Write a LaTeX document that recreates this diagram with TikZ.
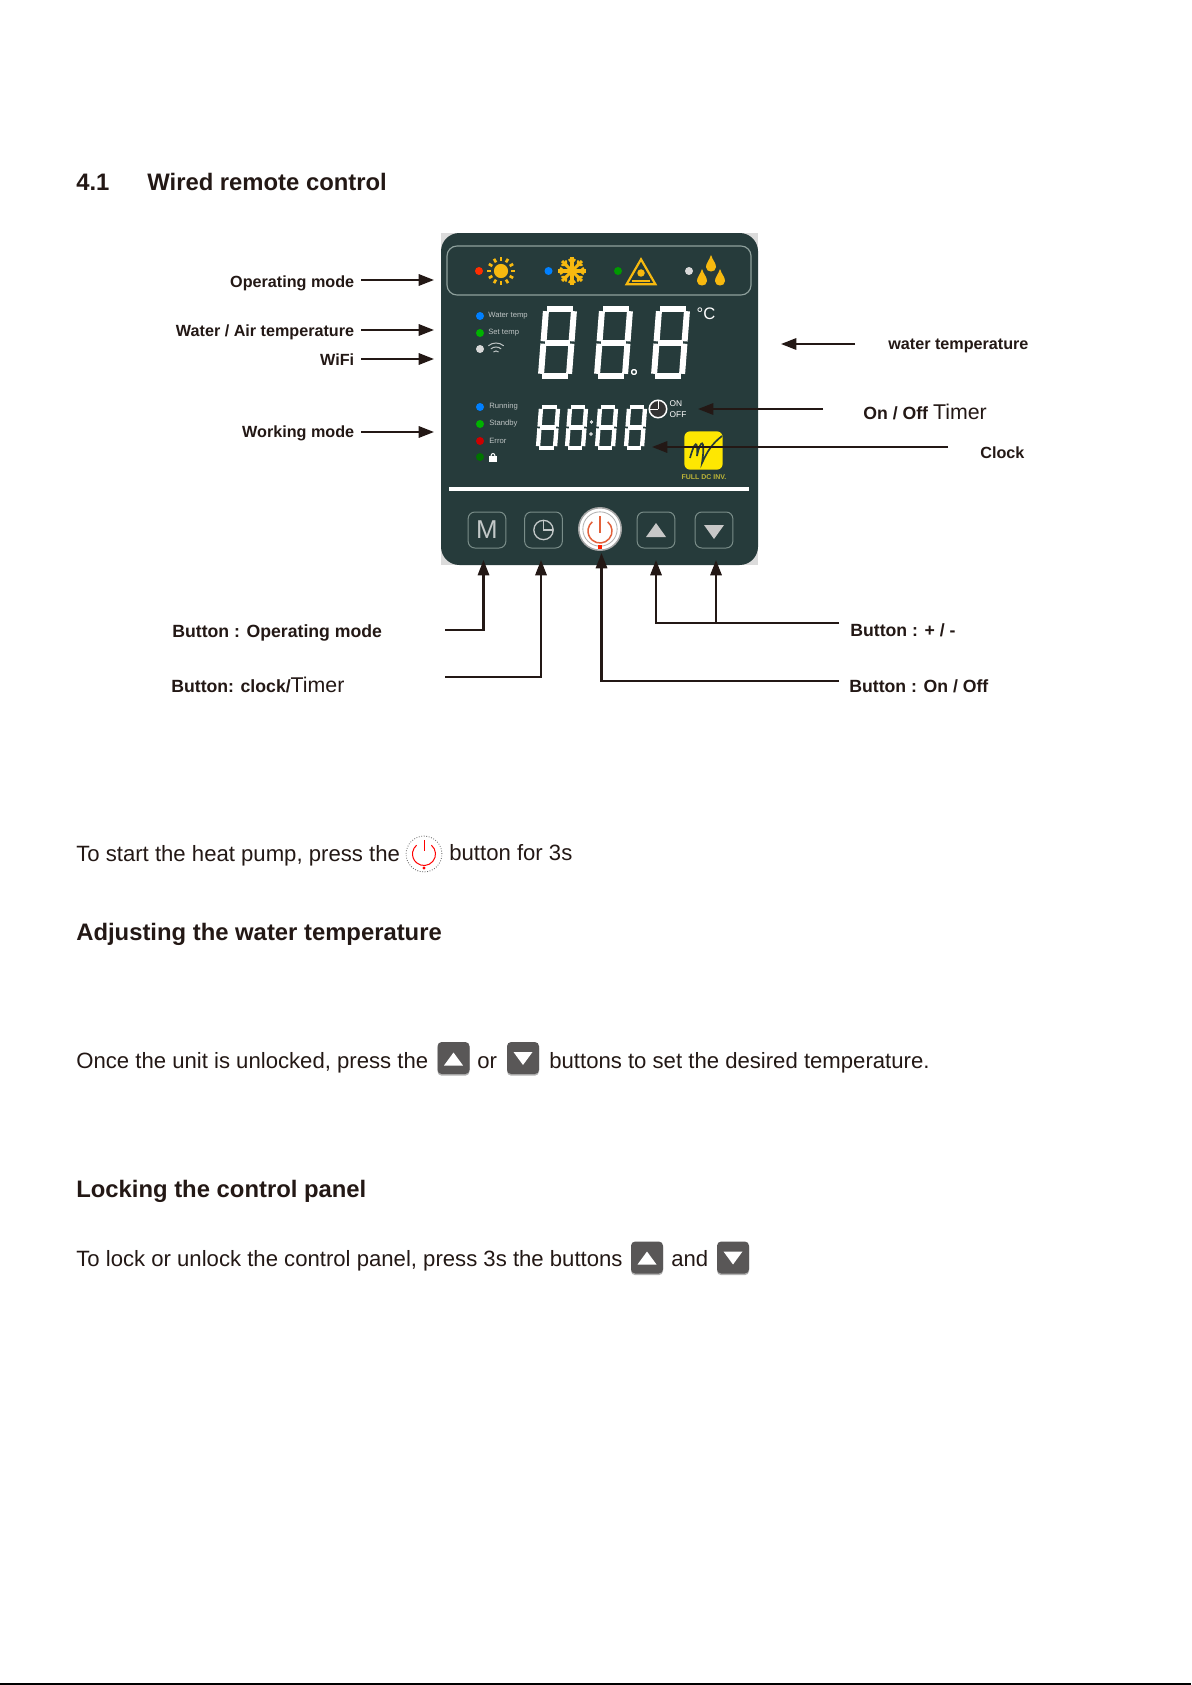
\documentclass[tikz,border=0pt]{standalone}
\usepackage{fontspec}
\setmainfont{Liberation Sans}
\usepackage{tikz}
\usetikzlibrary{arrows.meta,positioning,shapes.geometric}
\definecolor{panelgreen}{HTML}{263B3B}
\definecolor{sunyellow}{HTML}{F7B90F}
\definecolor{panelline}{HTML}{8FA19D}
\definecolor{btngrey}{HTML}{595757}
\definecolor{inkdark}{HTML}{231815}
\definecolor{powred}{HTML}{E2603A}
% seven segment digit: x, top, width, height, slant, line width
\newcommand{\sevenseg}[6]{%
  \begin{scope}[white,line width=#6pt,shorten >=#6pt*0.2,shorten <=#6pt*0.2]
  \draw (#1+#5+2,#2+2) -- (#1+#3-2,#2+2);
  \draw (#1+#5/2+2,#2+#4/2) -- (#1+#3-#5/2-2,#2+#4/2);
  \draw (#1+2,#2+#4-2) -- (#1+#3-#5-2,#2+#4-2);
  \draw (#1+#5+2,#2+3) -- (#1+#5/2+2,#2+#4/2);
  \draw (#1+#3-2,#2+3) -- (#1+#3-#5/2-2,#2+#4/2);
  \draw (#1+#5/2+2,#2+#4/2) -- (#1+2,#2+#4-3);
  \draw (#1+#3-#5/2-2,#2+#4/2) -- (#1+#3-#5-2,#2+#4-3);
  \end{scope}}
% flat triangles on the keys: x, y, half width, half height, colour
\newcommand{\triup}[5]{\fill[#5] (#1-#3,#2+#4) -- (#1+#3,#2+#4) -- (#1,#2-#4) -- cycle;}
\newcommand{\tridn}[5]{\fill[#5] (#1-#3,#2-#4) -- (#1+#3,#2-#4) -- (#1,#2+#4) -- cycle;}
\begin{document}
\begin{tikzpicture}[x=0.6pt,y=-0.6pt,
  lbl/.style={font=\bfseries\fontsize{9.7}{11}\selectfont,inner sep=0pt,text=inkdark},
  lblbig/.style={font=\bfseries\fontsize{10.6}{12}\selectfont,inner sep=0pt,text=inkdark},
  body/.style={font=\fontsize{13.28}{15}\selectfont,inner sep=0pt,anchor=base west,text=inkdark},
  head/.style={font=\bfseries\fontsize{14.3}{16}\selectfont,inner sep=0pt,anchor=base west,text=inkdark},
  arr/.style={-{Triangle[length=9.2pt,width=6.8pt]},line width=1.3pt,inkdark},
  led/.style={circle,inner sep=0pt,minimum size=4.8pt},
  tiny/.style={font=\fontsize{4.6}{5}\selectfont,inner sep=0pt,anchor=west,text=white!70!panelgreen},
  pbtn/.style={draw=panelline!80!panelgreen,line width=.6pt,rounded corners=4pt,minimum width=22.6pt,minimum height=21.6pt,inner sep=0pt},
  keybtn/.style={preaction={fill=black!30,transform canvas={yshift=-1pt}},fill=btngrey,rounded corners=2.5pt,minimum size=19.2pt,inner sep=0pt},
  sunray/.style={sunyellow,line width=1.6pt}]
\useasboundingbox (0,0) rectangle (1191,1685);
\fill[white] (0,0) rectangle (1191,1685);
\fill[black] (0,1683) rectangle (1191,1685);
% heading
\node[head] (title) at (76,191) {4.1};
\node[head] (titleb) at (147,191) {Wired remote control};
% panel
\fill[black!14] (441,233) rectangle (758,565);
\node[fill=panelgreen,rounded corners=11pt,minimum width=190.2pt,minimum height=199.2pt,inner sep=0pt] (panel) at (599.5,399) {};
\node[draw=panelline,line width=.7pt,rounded corners=6pt,minimum width=182.4pt,minimum height=29.4pt,inner sep=0pt] (modebar) at (599,270.5) {};
% mode icons
\node[led,fill=red!65!orange] (ledsun) at (479,271) {};
\node[circle,fill=sunyellow,inner sep=0pt,minimum size=8.5pt] (sun) at (501,271) {};
\foreach \a in {0,30,...,330}
  \draw[sunray] (sun.center) ++(\a:10) -- ++(\a:4);
\node[led,fill=blue!50!cyan] (ledsnow) at (548.5,271) {};
\coordinate (snow) at (572,271);
\foreach \a in {0,45,...,315} {
  \draw[sunyellow,line width=1.9pt] (snow) -- ++(\a:14);
  \draw[sunyellow,line width=1.2pt] (snow) ++(\a:8) -- ++(\a+40:5) (snow) ++(\a:8) -- ++(\a-40:5);
}
\node[led,fill=green!60!black] (ledwarn) at (618,271) {};
\node[regular polygon,regular polygon sides=3,draw=sunyellow,line width=1.3pt,inner sep=0pt,minimum size=20pt] (warn) at (641,276) {};
\node[circle,fill=sunyellow,inner sep=0pt,minimum size=4.5pt] (warnsun) at (641,273) {};
\draw[sunyellow,line width=1.3pt] (632,281) -- (650,281);
\node[led,fill=white!85!black] (leddrop) at (689,271) {};
\foreach \x/\y in {711/264,702/278,720/278}
  \fill[sunyellow] (\x,\y-9) .. controls (\x+2,\y-3) and (\x+5,\y-1) .. (\x+5,\y+3) .. controls (\x+5,\y+9) and (\x-5,\y+9) .. (\x-5,\y+3) .. controls (\x-5,\y-1) and (\x-2,\y-3) .. (\x,\y-9);
% left status column
\node[led,fill=blue!50!cyan] (ledwater) at (480,316) {};
\node[tiny] (water) at (488,316) {Water temp};
\node[led,fill=green!70!black] (ledset) at (480,333) {};
\node[tiny] (settemp) at (488,333) {Set temp};
\node[led,fill=white!85!black] (ledwifi) at (480,349) {};
\coordinate (wifi) at (496,355);
\foreach \r in {4,8,12}
  \draw[white!70!panelgreen,line width=.6pt] (wifi) ++(-50:\r) arc (-50:-130:\r);
\node[led,fill=blue!50!cyan] (ledrun) at (480,407) {};
\node[tiny] (running) at (489,407) {Running};
\node[led,fill=green!70!black] (ledstand) at (480,424) {};
\node[tiny] (standby) at (489,424) {Standby};
\node[led,fill=red!80!black] (lederr) at (480,441) {};
\node[tiny] (err) at (489,441) {Error};
\node[led,fill=green!45!black] (ledlock) at (480,457) {};
\fill[white] (489,456) rectangle (497,462);
\draw[white,line width=.6pt] (491,456) arc (180:360:2 and 2.5);
% big digits
\foreach \x in {539,595,652}
  \sevenseg{\x}{307}{37}{71}{5}{3.6}
\node[circle,draw=white,line width=.5pt,inner sep=0pt,minimum size=3pt] (dotbig) at (634,372) {};
\node[font=\fontsize{10}{12}\selectfont,inner sep=0pt,text=white] (degc) at (706,314) {°C};
% clock digits
\foreach \x/\w in {536/24,565/23,595/23,624/23}
  \sevenseg{\x}{405}{\w}{45}{3}{2.6}
\fill[white!80!panelgreen] (591.5,422) circle (1pt) (591,434) circle (1pt);
\node[circle,draw=white,line width=.9pt,fill=black!80,inner sep=0pt,minimum size=10.5pt] (clk) at (658,409) {};
\draw[white,line width=.6pt] (clk.center) -- (clk.north) (clk.center) -- (clk.west);
\node[font=\fontsize{5}{7}\selectfont,inner sep=0pt,text=white,align=left] (onoff) at (678,409) {ON\\OFF};
% logo
\node[fill=yellow!90!orange,rounded corners=3.5pt,minimum size=23pt,inner sep=0pt] (logo) at (703.5,450.5) {};
\draw[panelgreen,line width=1pt] (690,458) .. controls (695,440) and (698,440) .. (697,456) .. controls (700,440) and (706,436) .. (702,463) .. controls (708,450) and (712,444) .. (722,436);
\node[font=\bfseries\fontsize{4.2}{5}\selectfont,inner sep=0pt,text=yellow!70!black] (logotext) at (704,477) {FULL DC INV.};
\fill[white] (449,487) rectangle (749,491);
% panel buttons
\node[pbtn,font=\fontsize{15.5}{16}\selectfont,text=white!72!panelgreen] (btnm) at (487,530) {M};
\node[pbtn] (btnclk) at (543.5,530) {};
\draw[white!72!panelgreen,line width=.8pt] (btnclk.center) circle (5.8pt);
\draw[white!72!panelgreen,line width=.8pt] (543.5,521) -- (543.5,530) -- (553,530);
\node[circle,fill=white,draw=black!35,line width=.9pt,inner sep=0pt,minimum size=25.5pt] (btnpow) at (600,529) {};
\draw[black!30,line width=.5pt] (btnpow.center) circle (10.3pt);
\coordinate (powmid) at (600,531);
\draw[powred,line width=.9pt] (powmid) ++(-50:12) arc (-50:230:12);
\draw[powred,line width=.9pt] (600,516) -- (600,533);
\fill[red!75!orange] (598,545) rectangle (602,549);
\node[pbtn] (btnup) at (656,530) {};
\triup{656}{530}{10}{7}{white!78!black}
\node[pbtn] (btndown) at (714,530) {};
\tridn{714}{532}{10}{7}{white!78!black}
% left labels
\node[lbl,anchor=east] (lmode) at (354.5,283) {Operating mode};
\node[lbl,anchor=east] (lwater) at (354.5,332) {Water / Air temperature};
\node[lbl,anchor=east] (lwifi) at (354.5,359.5) {WiFi};
\node[lbl,anchor=east] (lwork) at (354.5,433.5) {Working mode};
\coordinate (amode) at (434,280);
\coordinate (awater) at (434,330);
\coordinate (awifi) at (434,359);
\coordinate (awork) at (434,432);
\draw[arr] (361,280) -- (amode);
\draw[arr] (361,330) -- (awater);
\draw[arr] (361,359) -- (awifi);
\draw[arr] (361,432) -- (awork);
% right labels
\node[lbl,anchor=west] (rwater) at (888,346) {water temperature};
\node[lblbig,anchor=base west] (rtimer) at (863,419) {On / Off \textmd{\fontsize{12.8}{14}\selectfont Timer}};
\node[lbl,anchor=west] (rclock) at (980,453) {Clock};
\coordinate (bwater) at (855,344);
\coordinate (awaterr) at (781,344);
\coordinate (btimer) at (823,409);
\coordinate (atimer) at (698,409);
\coordinate (bclock) at (948,447);
\coordinate (aclock) at (652,447);
\draw[arr] (bwater) -- (awaterr);
\draw[arr] (btimer) -- (atimer);
\draw[arr] (bclock) -- (aclock);
% button labels
\node[lblbig,anchor=west] (bmode) at (172,633) {Button : Operating mode};
\node[lblbig,anchor=west] (bclk) at (171,685) {Button: clock/\textmd{\fontsize{12.8}{14}\selectfont Timer}};
\node[lblbig,anchor=west] (bplus) at (850,630) {Button : + / -};
\node[lblbig,anchor=west] (bonoff) at (849,686.5) {Button : On / Off};
\coordinate (smode) at (445,630);
\coordinate (sclk) at (445,677);
\coordinate (splus) at (839,623);
\coordinate (sonoff) at (839,681);
\coordinate (tipmode) at (483.5,560);
\coordinate (tipclk) at (541,560);
\coordinate (tippow) at (601.5,553);
\coordinate (tipup) at (656,560);
\coordinate (tipdown) at (716,560);
\draw[arr] (smode) -| (tipmode);
\draw[arr] (sclk) -| (tipclk);
\draw[arr] (sonoff) -| (tippow);
\draw[arr] (splus) -| (tipup);
\draw[arr] (tipdown |- splus) -- (tipdown);
% body text
\node[body] (tstart) at (76,861) {To start the heat pump, press the};
\node[circle,draw=black!60,densely dotted,line width=.5pt,inner sep=0pt,minimum size=21.5pt] (keypow) at (424,854) {};
\draw[red,line width=.6pt] (keypow.center) ++(-50:11.5) arc (-50:230:11.5);
\draw[red,line width=.6pt] (424,840) -- (424,851);
\fill[red] (424,868) circle (1pt);
\node[body] (tstartb) at (449,860) {button for 3s};
\node[head] (hadj) at (76,940) {Adjusting the water temperature};
\node[body] (tonce) at (76,1068) {Once the unit is unlocked, press the};
\node[keybtn] (upa) at (453.5,1058) {};
\triup{453.5}{1059}{9.5}{6.5}{white}
\node[body] (tor) at (477,1068) {or};
\node[keybtn] (downa) at (523,1058) {};
\tridn{523}{1058.5}{9.5}{6.5}{white}
\node[body] (tset) at (549,1068) {buttons to set the desired temperature.};
\node[head] (hlock) at (76,1197) {Locking the control panel};
\node[body] (tlock) at (76,1266) {To lock or unlock the control panel, press 3s the buttons};
\node[keybtn] (upb) at (647,1257.5) {};
\triup{647}{1258}{9.5}{6.5}{white}
\node[body] (tand) at (671,1266) {and};
\node[keybtn] (downb) at (733,1257.5) {};
\tridn{733}{1258}{9.5}{6.5}{white}
\end{tikzpicture}
\end{document}
